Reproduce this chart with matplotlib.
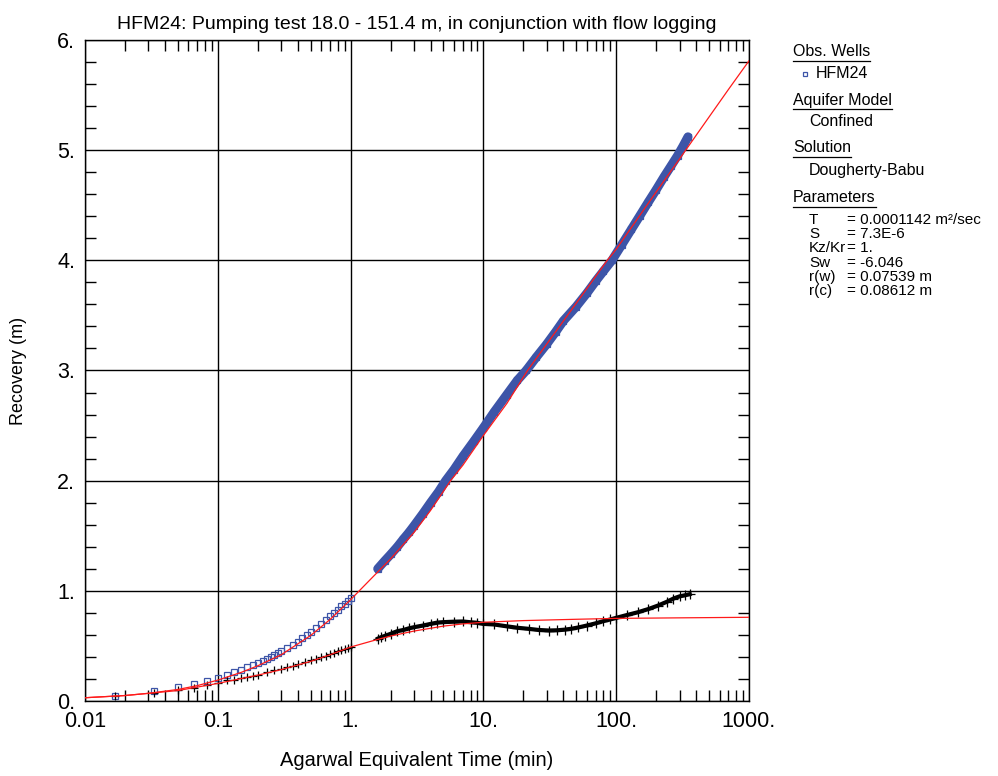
import matplotlib
matplotlib.use("Agg")
import matplotlib.pyplot as plt
from matplotlib.ticker import FixedLocator, NullFormatter, MultipleLocator

plt.rcParams["font.family"] = ["Liberation Sans", "DejaVu Sans"]

# === DATA ===
# observed recovery, early segment (min, m)
obs_t_early = [0.0167, 0.0333, 0.05, 0.0667, 0.0833, 0.1, 0.117, 0.133, 0.15, 0.167,
               0.183, 0.2, 0.217, 0.233, 0.25, 0.267, 0.283, 0.3, 0.333, 0.367,
               0.4, 0.433, 0.467, 0.5, 0.55, 0.6, 0.65, 0.7, 0.75, 0.8,
               0.85, 0.9, 0.95, 1.0]
obs_s_early = [0.05, 0.088, 0.125, 0.152, 0.185, 0.21, 0.235, 0.26, 0.283, 0.305,
               0.325, 0.345, 0.365, 0.382, 0.40, 0.418, 0.433, 0.45, 0.48, 0.51,
               0.54, 0.57, 0.60, 0.625, 0.665, 0.70, 0.735, 0.77, 0.80, 0.83,
               0.86, 0.885, 0.91, 0.935]

# observed recovery, late segment
obs_t_late = [1.6, 1.8, 2.0, 2.25, 2.5, 2.75, 3.0, 3.5, 4.0, 4.6,
              5.2, 6.0, 7.0, 8.5, 10, 12, 15, 18, 21, 25,
              30, 35, 40, 50, 60, 70, 80, 93, 110, 130,
              150, 175, 200, 230, 260, 290, 320, 347]
obs_s_late = [1.20, 1.27, 1.33, 1.40, 1.47, 1.53, 1.59, 1.70, 1.80, 1.90,
              2.00, 2.10, 2.22, 2.36, 2.48, 2.62, 2.78, 2.91, 3.00, 3.12,
              3.24, 3.35, 3.45, 3.58, 3.70, 3.81, 3.90, 4.00, 4.14, 4.28,
              4.40, 4.53, 4.64, 4.76, 4.86, 4.95, 5.04, 5.12]

# derivative, early segment
der_t_early = [0.0167, 0.0333, 0.05, 0.0667, 0.0833, 0.1, 0.117, 0.133, 0.15, 0.167,
               0.183, 0.2, 0.233, 0.267, 0.3, 0.333, 0.367, 0.4, 0.45, 0.5,
               0.55, 0.6, 0.65, 0.7, 0.75, 0.8, 0.85, 0.9, 0.95, 1.0]
der_s_early = [0.05, 0.076, 0.10, 0.118, 0.15, 0.165, 0.19, 0.195, 0.21, 0.215,
               0.225, 0.24, 0.26, 0.28, 0.29, 0.305, 0.32, 0.335, 0.35, 0.37,
               0.385, 0.40, 0.41, 0.425, 0.44, 0.45, 0.46, 0.47, 0.48, 0.49]

# derivative, late segment
der_t_late = [1.6, 1.7, 1.8, 2.0, 2.25, 2.5, 2.75, 3.0, 3.5, 4.0,
              4.5, 5.0, 6.0, 7.0, 8.0, 9.0, 10, 12, 15, 18,
              22, 26, 31, 36, 41, 46, 52, 60, 70, 80,
              90, 100, 120, 146, 175, 207, 240, 270, 300, 330, 358]
der_s_late = [0.565, 0.58, 0.59, 0.61, 0.634, 0.645, 0.66, 0.67, 0.685, 0.70,
              0.712, 0.716, 0.72, 0.722, 0.715, 0.71, 0.70, 0.695, 0.678, 0.665,
              0.655, 0.645, 0.64, 0.642, 0.648, 0.656, 0.668, 0.685, 0.705, 0.725,
              0.74, 0.755, 0.78, 0.806, 0.835, 0.867, 0.90, 0.93, 0.95, 0.96, 0.97]

# Dougherty-Babu fitted curve
fit_t = [0.01, 0.02, 0.03, 0.05, 0.07, 0.1, 0.15, 0.2, 0.3, 0.5,
         0.7, 1.0, 1.4, 2.0, 3.0, 4.0, 5.66, 7.0, 10, 15,
         21.5, 30, 50, 85.7, 100, 200, 300, 500, 700, 1000]
fit_s = [0.03, 0.05, 0.07, 0.105, 0.14, 0.19, 0.26, 0.32, 0.42, 0.595,
         0.74, 0.92, 1.10, 1.29, 1.53, 1.73, 2.0, 2.14, 2.41, 2.70,
         3.0, 3.24, 3.61, 4.0, 4.10, 4.62, 4.92, 5.30, 5.55, 5.81]

# fitted derivative curve
fitd_t = [0.01, 0.02, 0.05, 0.1, 0.2, 0.3, 0.5, 0.7, 1.0, 1.5,
          2.0, 3.0, 5.0, 7.0, 10, 20, 50, 100, 300, 1000]
fitd_s = [0.03, 0.05, 0.095, 0.16, 0.235, 0.285, 0.36, 0.42, 0.49, 0.55,
          0.59, 0.635, 0.68, 0.70, 0.715, 0.73, 0.742, 0.75, 0.755, 0.76]

x_major = [0.01, 0.1, 1, 10, 100, 1000]
x_labels = ["0.01", "0.1", "1.", "10.", "100.", "1000."]
y_major = [0, 1, 2, 3, 4, 5, 6]
y_labels = ["0.", "1.", "2.", "3.", "4.", "5.", "6."]

params = [("T", "= 0.0001142 m²/sec"), ("S", "= 7.3E-6"), ("Kz/Kr", "= 1."),
          ("Sw", "= -6.046"), ("r(w)", "= 0.07539 m"), ("r(c)", "= 0.08612 m")]

BLUE = "#3d55a8"
RED = "#ff1a1a"

fig = plt.figure(figsize=(9.98, 7.76), dpi=100)
ax = fig.add_axes([0.0852, 0.0966, 0.6653, 0.852])

ax.plot(fit_t, fit_s, color=RED, lw=0.9, zorder=4)
ax.plot(fitd_t, fitd_s, color=RED, lw=0.9, zorder=4)

# observed data: squares, dense part also as a band
ax.plot(obs_t_early, obs_s_early, ls="none", marker="s", ms=4.2, mfc="none",
        mec=BLUE, mew=0.9, zorder=3)
ax.plot(obs_t_late, obs_s_late, color=BLUE, lw=6.5, solid_capstyle="round", zorder=3)
ax.plot(obs_t_late, obs_s_late, ls="none", marker="s", ms=4.2, mfc="none",
        mec=BLUE, mew=0.9, zorder=3)

# derivative data: crosses
ax.plot(der_t_early, der_s_early, ls="none", marker="+", ms=6, color="black",
        mew=0.9, zorder=3)
ax.plot(der_t_late, der_s_late, color="black", lw=3, zorder=3)
ax.plot(der_t_late, der_s_late, ls="none", marker="+", ms=7, color="black",
        mew=0.9, zorder=3)

ax.set_xscale("log")
ax.set_xlim(0.01, 1000)
ax.set_ylim(0, 6)

ax.xaxis.set_major_locator(FixedLocator(x_major))
ax.set_xticklabels(x_labels)
minors = [m * d for d in [0.01, 0.1, 1, 10, 100] for m in range(2, 10)]
ax.xaxis.set_minor_locator(FixedLocator(minors))
ax.xaxis.set_minor_formatter(NullFormatter())
ax.yaxis.set_major_locator(FixedLocator(y_major))
ax.set_yticklabels(y_labels)
ax.yaxis.set_minor_locator(MultipleLocator(0.2))

ax.tick_params(which="both", direction="in", top=True, right=True, labelsize=15.5,
               color="black", width=1)
ax.tick_params(which="major", length=0, pad=7)
ax.tick_params(which="minor", length=8)
ax.grid(which="major", color="black", lw=1)
for sp in ax.spines.values():
    sp.set_linewidth(1)

ax.set_title("HFM24: Pumping test 18.0 - 151.4 m, in conjunction with flow logging",
             fontsize=14, pad=8)
ax.set_xlabel("Agarwal Equivalent Time (min)", fontsize=14.5, labelpad=14)
ax.set_ylabel("Recovery (m)", fontsize=13, labelpad=22)

# legend / parameter block
W, H = 998.0, 776.0
def fx(px):
    return px / W
def fy(py):
    return 1 - py / H

def heading(txt, py):
    t = fig.text(fx(793), fy(py), txt, fontsize=11.5, va="center", ha="left")
    fig.canvas.draw()
    bb = t.get_window_extent()
    fig.add_artist(plt.Line2D([bb.x0 / W, bb.x1 / W], [fy(py + 9)] * 2,
                              color="black", lw=0.9, transform=fig.transFigure))

heading("Obs. Wells", 52)
fig.add_artist(plt.Line2D([fx(805)], [fy(74)], marker="s", ms=3.5, mfc="none",
                          mec=BLUE, mew=0.9, transform=fig.transFigure))
fig.text(fx(816), fy(74), "HFM24", fontsize=11.5, va="center")
heading("Aquifer Model", 100)
fig.text(fx(809), fy(122), "Confined", fontsize=11.5, va="center")
heading("Solution", 148)
fig.text(fx(809), fy(171), "Dougherty-Babu", fontsize=11.5, va="center")
heading("Parameters", 198)
for i, (name, val) in enumerate(params):
    py = 220 + i * 14.2
    fig.text(fx(809), fy(py), name, fontsize=11, va="center")
    fig.text(fx(847), fy(py), val, fontsize=11, va="center")

fig.savefig("out.png", dpi=100)
